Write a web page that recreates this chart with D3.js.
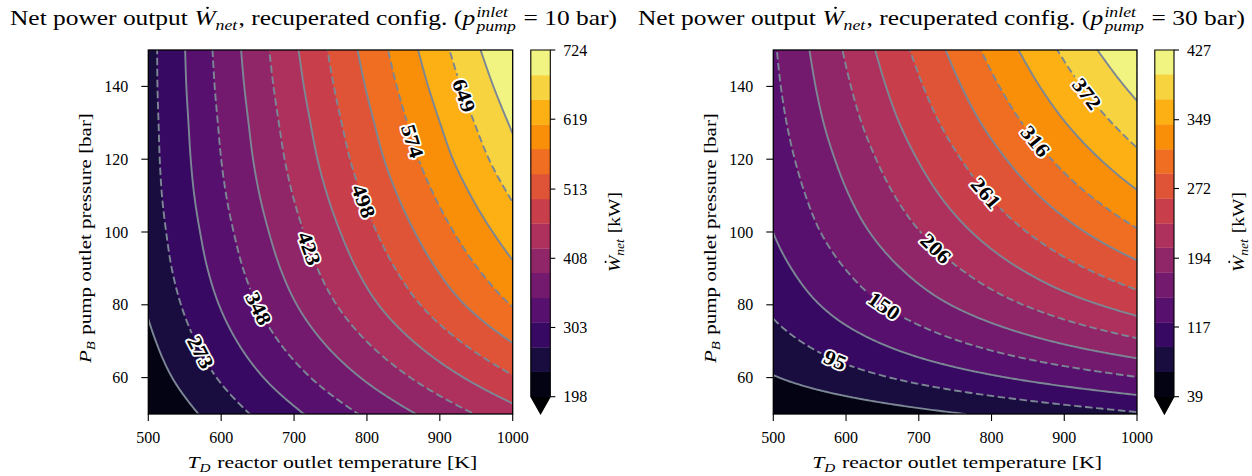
<!DOCTYPE html>
<html>
<head>
<meta charset="utf-8">
<script src="https://cdn.jsdelivr.net/npm/d3@7"></script>
<style>
  body { margin: 0; background: #fff; }
  svg { display: block; }
  text { font-family: "Liberation Serif", "Times New Roman", serif; fill: #000; white-space: pre; }
</style>
</head>
<body>
<svg id="fig" width="1252" height="476"></svg>
<script>
// ---- sampled operating grid ----
const temperatureK = [500, 600, 700, 800, 900, 1000];
const pressureBar = [50, 60, 70, 80, 90, 100, 110, 120, 130, 140, 150];

// Net power output [kW]; one row per pump outlet pressure, one column per reactor outlet temperature
const wNetInlet10 = [
  [199, 252.6, 304.2, 353.8, 401.4, 447],
  [216, 276.8, 335.1, 390.9, 444.2, 495],
  [229, 296.8, 361.6, 423.4, 482.2, 538],
  [240, 313.2, 383.4, 450.6, 514.8, 576],
  [248, 325.4, 399.8, 471.2, 539.6, 605],
  [253, 334.4, 412.8, 488.2, 560.6, 630],
  [257, 342.2, 424.4, 503.6, 579.8, 653],
  [259, 348.0, 434.0, 517.0, 597.0, 674],
  [260, 352.2, 441.4, 527.6, 610.8, 691],
  [261, 356.4, 448.8, 538.2, 624.6, 708],
  [261, 359.6, 455.2, 547.8, 637.4, 724]
];
const wNetInlet30 = [
  [39, 49.6, 60.2, 70.8, 81.4, 92],
  [65.5, 84.2, 101.9, 118.6, 134.3, 149],
  [85, 111.6, 136.6, 160.0, 181.8, 202],
  [100.5, 133.9, 165.1, 194.1, 220.9, 245.5],
  [112.5, 150.7, 186.7, 220.6, 252.2, 281.6],
  [122.2, 164.8, 205.1, 243.3, 279.2, 313],
  [129, 176.0, 220.6, 262.8, 302.6, 340],
  [135, 185.7, 234.1, 280.0, 323.6, 364.7],
  [140, 194.7, 246.7, 296.2, 343.0, 387.3],
  [144, 202.2, 257.7, 310.5, 360.6, 408],
  [147, 209.0, 268.0, 324.0, 377.0, 427]
];

// contour levels (filled bands + iso-lines)
const levelsInlet10 = [198, 236, 273, 311, 348, 386, 423, 461, 498, 536, 574, 611, 649, 686, 724];
const levelsInlet30 = [39, 67, 95, 122, 150, 178, 206, 233, 261, 289, 316, 344, 372, 400, 427];

// colorbar tick labels
const cbarTicksInlet10 = [198, 303, 408, 513, 619, 724];
const cbarTicksInlet30 = [39, 117, 194, 272, 349, 427];

// axis tick labels
const xTickValues = [500, 600, 700, 800, 900, 1000];
const yTickValues = [60, 80, 100, 120, 140];

// inlet pressures of the two configurations
const inletPressures = ["10", "30"];

// where the inline contour labels sit (T [K], p [bar]); snapped onto the iso-line
const inlineLabelAnchors10 = [[573, 67], [656, 79.5], [726, 96], [800, 109], [864, 125], [935, 137.5]];
const inlineLabelAnchors30 = [[587, 65.3], [656, 81], [725, 96], [794, 111], [862, 125.3], [933, 138.2]];

// ---- layout ----
const W = 1252, H = 476;
const axTop = 50, axBottom = 414, cbBottom = 396.7;
const panels = [
  { values: wNetInlet10, levels: levelsInlet10, cbTicks: cbarTicksInlet10, anchors: inlineLabelAnchors10,
    inlet: inletPressures[0], x0: 148.3, x1: 512.7, cb0: 530.8, cb1: 550.3, titleX: 313.5 },
  { values: wNetInlet30, levels: levelsInlet30, cbTicks: cbarTicksInlet30, anchors: inlineLabelAnchors30,
    inlet: inletPressures[1], x0: 773.3, x1: 1137.0, cb0: 1154.8, cb1: 1174.0, titleX: 941.5 }
];

const lineColor = "#7b8795";
const tickSize = 16;
const svg = d3.select("#fig");
svg.append("rect").attr("width", W).attr("height", H).attr("fill", "#fff");
const defs = svg.append("defs");

// ---- text helpers ----
function measure(str, size, italic, weight) {
  const t = svg.append("text").attr("font-size", size)
    .attr("font-style", italic ? "italic" : "normal")
    .attr("font-weight", weight || "normal").text(str);
  const w = t.node().getComputedTextLength();
  t.remove();
  return w;
}

// lays out a line of mixed roman / italic / script text centred on (x, y),
// stretched horizontally to the requested width
function richText(parts, size, x, y, rotate, width) {
  const outer = svg.append("g").attr("transform", `translate(${x},${y}) rotate(${rotate || 0})`);
  const inner = outer.append("g");
  const ss = size * 0.7;
  let cx = 0;
  parts.forEach(p => {
    if (p.stack) {
      const w1 = measure(p.stack.sup, ss, true), w2 = measure(p.stack.sub, ss, true);
      inner.append("text").attr("x", cx + 1).attr("y", -size * 0.40).attr("font-size", ss)
        .attr("font-style", "italic").text(p.stack.sup);
      inner.append("text").attr("x", cx + 1).attr("y", size * 0.30).attr("font-size", ss)
        .attr("font-style", "italic").text(p.stack.sub);
      cx += Math.max(w1, w2) + 2;
    } else {
      const fs = p.sub ? ss : size;
      const w = measure(p.t, fs, p.it);
      inner.append("text").attr("x", cx).attr("y", p.sub ? size * 0.22 : 0).attr("font-size", fs)
        .attr("font-style", p.it ? "italic" : "normal").text(p.t);
      if (p.dot) {
        inner.append("circle").attr("cx", cx + w * 0.62).attr("cy", -size * 0.84)
          .attr("r", size * 0.055).attr("fill", "#000");
      }
      cx += w + (p.sub ? 1 : 0);
    }
  });
  const sx = width ? width / cx : 1;
  inner.attr("transform", `translate(${-cx * sx / 2},0) scale(${sx},1)`);
  return cx;
}

// ---- field smoothing (Catmull-Rom through the sampled grid) ----
function cubic(arr, u) {
  const n = arr.length;
  const ext = k => k < 0 ? 2 * arr[0] - arr[1] : (k >= n ? 2 * arr[n - 1] - arr[n - 2] : arr[k]);
  let k = Math.floor(u);
  if (k > n - 2) k = n - 2;
  if (k < 0) k = 0;
  const t = u - k;
  const p0 = ext(k - 1), p1 = arr[k], p2 = arr[k + 1], p3 = ext(k + 2);
  return 0.5 * (2 * p1 + (-p0 + p2) * t + (2 * p0 - 5 * p1 + 4 * p2 - p3) * t * t +
                (-p0 + 3 * p1 - 3 * p2 + p3) * t * t * t);
}
const NX = 201, NY = 201;
function fineField(grid) {
  const out = new Float64Array(NX * NY);
  const nr = grid.length, nc = grid[0].length;
  for (let i = 0; i < NX; i++) {
    const v = i / (NX - 1) * (nc - 1);
    const col = grid.map(row => cubic(row, v));
    for (let j = 0; j < NY; j++) {
      const u = j / (NY - 1) * (nr - 1);
      out[j * NX + i] = cubic(col, u);
    }
  }
  return out;
}

const tStep = (temperatureK[temperatureK.length - 1] - temperatureK[0]) / (NX - 1);
const pStep = (pressureBar[pressureBar.length - 1] - pressureBar[0]) / (NY - 1);
const contourGen = d3.contours().size([NX, NY]).smooth(true);

panels.forEach((pn, pi) => {
  const xS = d3.scaleLinear().domain([500, 1000]).range([pn.x0, pn.x1]);
  const yS = d3.scaleLinear().domain([50, 150]).range([axBottom, axTop]);
  const toScreen = (u, v) => [xS(temperatureK[0] + (u - 0.5) * tStep), yS(pressureBar[0] + (v - 0.5) * pStep)];
  const proj = d3.geoTransform({ point(u, v) { const p = toScreen(u, v); this.stream.point(p[0], p[1]); } });
  const path = d3.geoPath(proj);
  const field = fineField(pn.values);
  const nBands = pn.levels.length - 1;
  const bandColor = i => d3.interpolateInferno((i + 0.5) / nBands);
  const underColor = d3.interpolateInferno(0);

  const clipId = "clip" + pi;
  defs.append("clipPath").attr("id", clipId).append("rect")
    .attr("x", pn.x0).attr("y", axTop).attr("width", pn.x1 - pn.x0).attr("height", axBottom - axTop);

  // filled bands
  const gFill = svg.append("g").attr("clip-path", `url(#${clipId})`);
  gFill.append("rect").attr("x", pn.x0).attr("y", axTop).attr("width", pn.x1 - pn.x0)
    .attr("height", axBottom - axTop).attr("fill", underColor);
  pn.levels.slice(0, -1).forEach((lv, i) => {
    gFill.append("path").attr("d", path(contourGen.contour(field, lv))).attr("fill", bandColor(i))
      .attr("stroke", bandColor(i)).attr("stroke-width", 0.3);
  });

  // inline labels: snap each anchor onto its iso-line
  const labelled = pn.levels.map((lv, i) => i).filter(i => i > 0 && i < nBands && i % 2 === 0);
  const labels = [];
  labelled.forEach((li, k) => {
    const lv = pn.levels[li];
    const anchor = pn.anchors[k];
    const ax = xS(anchor[0]), ay = yS(anchor[1]);
    const c = contourGen.contour(field, lv);
    let best = null, bd = Infinity;
    c.coordinates.forEach(poly => poly.forEach(ring => {
      const pts = ring.map(([u, v]) => toScreen(u, v));
      pts.forEach((p, idx) => {
        if (p[0] < pn.x0 + 3 || p[0] > pn.x1 - 3 || p[1] < axTop + 3 || p[1] > axBottom - 3) return;
        const d = (p[0] - ax) ** 2 + (p[1] - ay) ** 2;
        if (d < bd) { bd = d; best = { pts, idx }; }
      });
    }));
    if (!best) return;
    const { pts, idx } = best, n = pts.length;
    const a = pts[Math.max(0, idx - 5)], b = pts[Math.min(n - 1, idx + 5)];
    let ang = Math.atan2(b[1] - a[1], b[0] - a[0]) * 180 / Math.PI;
    if (ang > 90) ang -= 180;
    if (ang < -90) ang += 180;
    labels.push({ text: String(lv), x: pts[idx][0], y: pts[idx][1], ang });
  });

  const labelSize = 20.5, labelStretch = 1.1;
  const maskId = "mask" + pi;
  const mask = defs.append("mask").attr("id", maskId).attr("maskUnits", "userSpaceOnUse")
    .attr("x", 0).attr("y", 0).attr("width", W).attr("height", H);
  mask.append("rect").attr("width", W).attr("height", H).attr("fill", "#fff");
  labels.forEach(l => {
    l.w = measure(l.text, labelSize, false, "bold") * labelStretch;
    mask.append("rect").attr("x", -l.w / 2 - 4).attr("y", -7).attr("width", l.w + 8).attr("height", 14)
      .attr("transform", `translate(${l.x},${l.y}) rotate(${l.ang})`).attr("fill", "#000");
  });

  // iso-lines: labelled levels dashed, others solid
  const gLines = svg.append("g").attr("clip-path", `url(#${clipId})`)
    .append("g").attr("mask", `url(#${maskId})`);
  pn.levels.forEach((lv, i) => {
    if (i === 0 || i === nBands) return;
    gLines.append("path").attr("d", path(contourGen.contour(field, lv)))
      .attr("fill", "none").attr("stroke", lineColor).attr("stroke-width", 1.9)
      .attr("stroke-dasharray", i % 2 === 0 ? "7.5,3.5" : null);
  });

  // label text with white halo
  labels.forEach(l => {
    svg.append("text").attr("transform", `translate(${l.x},${l.y}) rotate(${l.ang}) scale(${labelStretch},1)`)
      .attr("text-anchor", "middle").attr("dy", "0.35em")
      .attr("font-size", labelSize).attr("font-weight", "bold")
      .attr("stroke", "#fff").attr("stroke-width", 3.6).attr("stroke-linejoin", "round")
      .attr("paint-order", "stroke").text(l.text);
  });

  // axes frame and ticks
  svg.append("rect").attr("x", pn.x0).attr("y", axTop).attr("width", pn.x1 - pn.x0)
    .attr("height", axBottom - axTop).attr("fill", "none").attr("stroke", "#000").attr("stroke-width", 1.3);
  xTickValues.forEach(t => {
    svg.append("line").attr("x1", xS(t)).attr("x2", xS(t)).attr("y1", axBottom).attr("y2", axBottom + 7)
      .attr("stroke", "#000").attr("stroke-width", 1.1);
    svg.append("text").attr("x", xS(t)).attr("y", 443).attr("text-anchor", "middle")
      .attr("font-size", tickSize).text(t);
  });
  yTickValues.forEach(t => {
    svg.append("line").attr("x1", pn.x0 - 7).attr("x2", pn.x0).attr("y1", yS(t)).attr("y2", yS(t))
      .attr("stroke", "#000").attr("stroke-width", 1.1);
    svg.append("text").attr("x", pn.x0 - 20).attr("y", yS(t) + 5.5).attr("text-anchor", "end")
      .attr("font-size", tickSize).text(t);
  });

  // colorbar
  const cS = d3.scaleLinear().domain([pn.levels[0], pn.levels[nBands]]).range([cbBottom, axTop]);
  const gCb = svg.append("g");
  pn.levels.slice(0, -1).forEach((lv, i) => {
    gCb.append("rect").attr("x", pn.cb0).attr("width", pn.cb1 - pn.cb0)
      .attr("y", cS(pn.levels[i + 1])).attr("height", cS(lv) - cS(pn.levels[i + 1]) + 0.3)
      .attr("fill", bandColor(i));
  });
  const mid = (pn.cb0 + pn.cb1) / 2;
  gCb.append("path").attr("d", `M${pn.cb0},${cbBottom}L${pn.cb1},${cbBottom}L${mid},${axBottom}Z`).attr("fill", underColor);
  gCb.append("path")
    .attr("d", `M${pn.cb0},${axTop}H${pn.cb1}V${cbBottom}L${mid},${axBottom}L${pn.cb0},${cbBottom}Z`)
    .attr("fill", "none").attr("stroke", "#000").attr("stroke-width", 1.1);
  pn.cbTicks.forEach(t => {
    const yy = cS(t);
    gCb.append("line").attr("x1", pn.cb1).attr("x2", pn.cb1 + 5).attr("y1", yy).attr("y2", yy)
      .attr("stroke", "#000").attr("stroke-width", 1.1);
    gCb.append("text").attr("x", pn.cb1 + 13).attr("y", yy + 5.5).attr("font-size", tickSize).text(t);
  });

  // titles and axis labels
  richText([
    { t: "Net power output " }, { t: "W", it: true, dot: true }, { t: "net", it: true, sub: true },
    { t: ", recuperated config. (" }, { t: "p", it: true }, { stack: { sup: "inlet", sub: "pump" } },
    { t: " = " + pn.inlet + " bar)" }
  ], 20.5, pn.titleX, 25, 0, 607);
  richText([{ t: "T", it: true }, { t: "D", it: true, sub: true }, { t: " reactor outlet temperature [K]" }],
    17.5, (pn.x0 + pn.x1) / 2 + 2, 468, 0, 290);
  richText([{ t: "P", it: true }, { t: "B", it: true, sub: true }, { t: " pump outlet pressure [bar]" }],
    17.5, pn.x0 - 57, (axTop + axBottom) / 2 + 6, -90, 250);
  richText([{ t: "W", it: true, dot: true }, { t: "net", it: true, sub: true }, { t: " [kW]" }],
    17.5, pn.cb1 + 70, (axTop + axBottom) / 2, -90, 80);
});
</script>
</body>
</html>
